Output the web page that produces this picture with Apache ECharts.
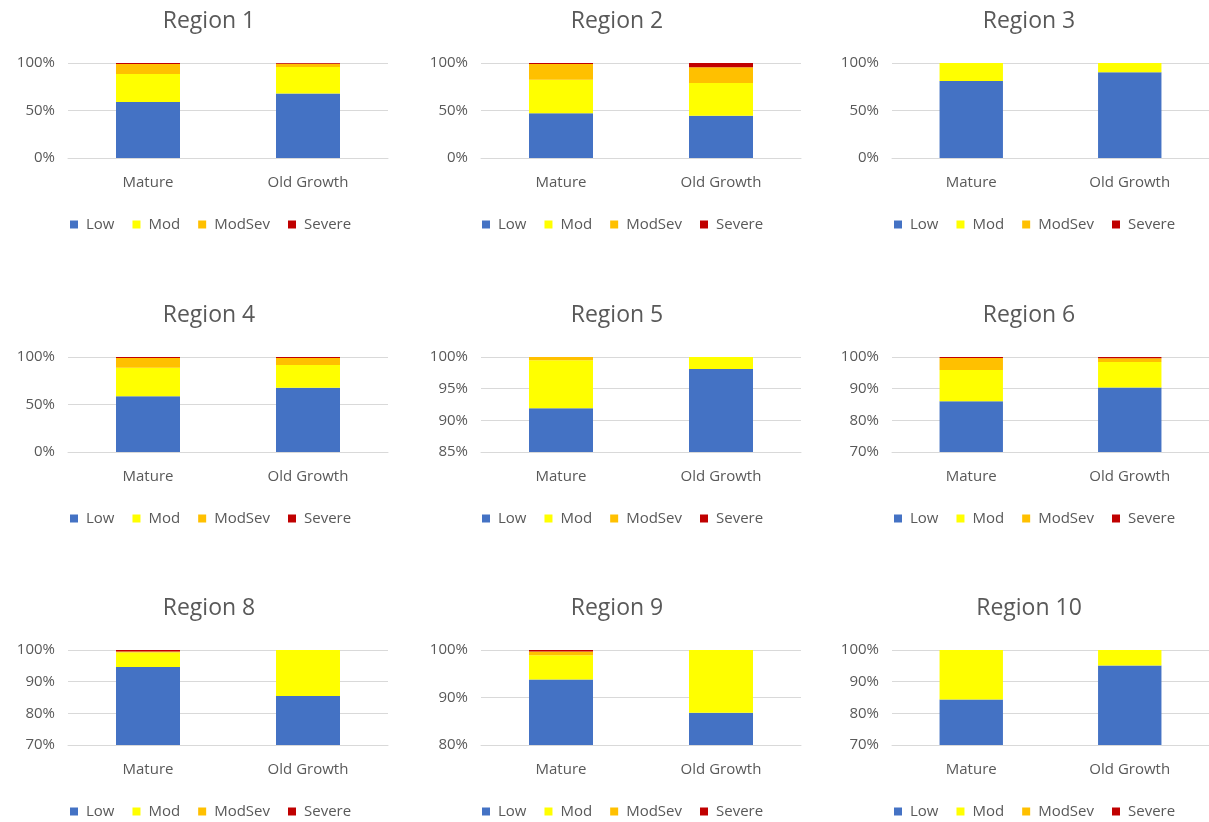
<!DOCTYPE html>
<html>
<head>
<meta charset="utf-8">
<script src="https://cdn.jsdelivr.net/npm/echarts@6/dist/echarts.min.js"></script>
<style>
html,body{margin:0;padding:0;background:#fff;}
#c{width:1209px;height:822px;}
</style>
</head>
<body>
<div id="c"></div>
<script>
// ---- data ----
var regions = ['Region 1','Region 2','Region 3','Region 4','Region 5','Region 6','Region 8','Region 9','Region 10'];
var categories = ['Mature','Old Growth'];
var seriesNames = ['Low','Mod','ModSev','Severe'];
var low    = [[59,68],[47,44.5],[81,90.2],[58.6,67.7],[91.9,98.1],[86,90.4],[94.6,85.5],[93.8,86.8],[84.4,95.1]];
var mod    = [[29.5,27.8],[35.5,34.5],[19,9.8],[30.2,23.9],[7.6,1.9],[9.9,8.0],[4.6,14.5],[5.1,13.2],[15.6,4.9]];
var modSev = [[10.5,3.5],[16.5,16.5],[0,0],[10.1,7.3],[0.5,0],[3.8,1.2],[0.3,0],[0.8,0],[0,0]];
var severe = [[1,0.7],[1,4.5],[0,0],[1.1,1.1],[0,0],[0.3,0.4],[0.5,0],[0.3,0],[0,0]];
var yMin = [0,0,0,0,85,70,70,80,70];
var yInterval = [50,50,50,50,5,10,10,10,10];
var yMax = 100;

// ---- layout / style ----
var colors = ['#4472C4','#FFFF00','#FFC000','#C00000'];
var colLeft = [68, 481, 892];
var colTitle = [204, 612, 1024];
var colLegend = [65, 477, 889];
var rowTop = [63, 357, 650];
var gridW = 320, gridH = 95;
var txt = '#595959';
var font = 'Open Sans';

var option = {
  animation: false,
  backgroundColor: '#fff',
  color: colors,
  title: [], legend: [], grid: [], xAxis: [], yAxis: [], series: []
};
var allData = [low, mod, modSev, severe];
for (var i = 0; i < regions.length; i++) {
  var c = i % 3, r = Math.floor(i / 3);
  option.title.push({
    text: regions[i], left: colTitle[c], top: rowTop[r] - 58, textAlign: 'center',
    textStyle: {color: txt, fontSize: 23, fontWeight: 'normal', fontFamily: font}
  });
  option.legend.push({
    data: seriesNames, left: colLegend[c], top: rowTop[r] + 149,
    itemWidth: 8, itemHeight: 8, itemGap: 18, icon: 'rect',
    textStyle: {color: txt, fontSize: 15, fontFamily: font, padding: [0,0,0,3]}
  });
  option.grid.push({left: colLeft[c], top: rowTop[r], width: gridW, height: gridH});
  option.xAxis.push({
    type: 'category', gridIndex: i, data: categories,
    axisLine: {show: true, lineStyle: {color: '#d9d9d9'}}, axisTick: {show: false},
    axisLabel: {color: txt, fontSize: 15, fontFamily: font, margin: 17}
  });
  option.yAxis.push({
    type: 'value', gridIndex: i, min: yMin[i], max: yMax, interval: yInterval[i],
    axisLine: {show: false}, axisTick: {show: false},
    splitLine: {lineStyle: {color: '#d9d9d9'}},
    axisLabel: {color: txt, fontSize: 15, fontFamily: font, margin: 13, formatter: '{value}%'}
  });
  for (var s = 0; s < 4; s++) {
    option.series.push({
      type: 'bar', name: seriesNames[s], xAxisIndex: i, yAxisIndex: i,
      stack: 'st' + i, barCategoryGap: '60%', data: allData[s][i],
      itemStyle: {color: colors[s]}, clip: true
    });
  }
}
var chart = echarts.init(document.getElementById('c'), null, {renderer: 'canvas'});
chart.setOption(option);
</script>
</body>
</html>
